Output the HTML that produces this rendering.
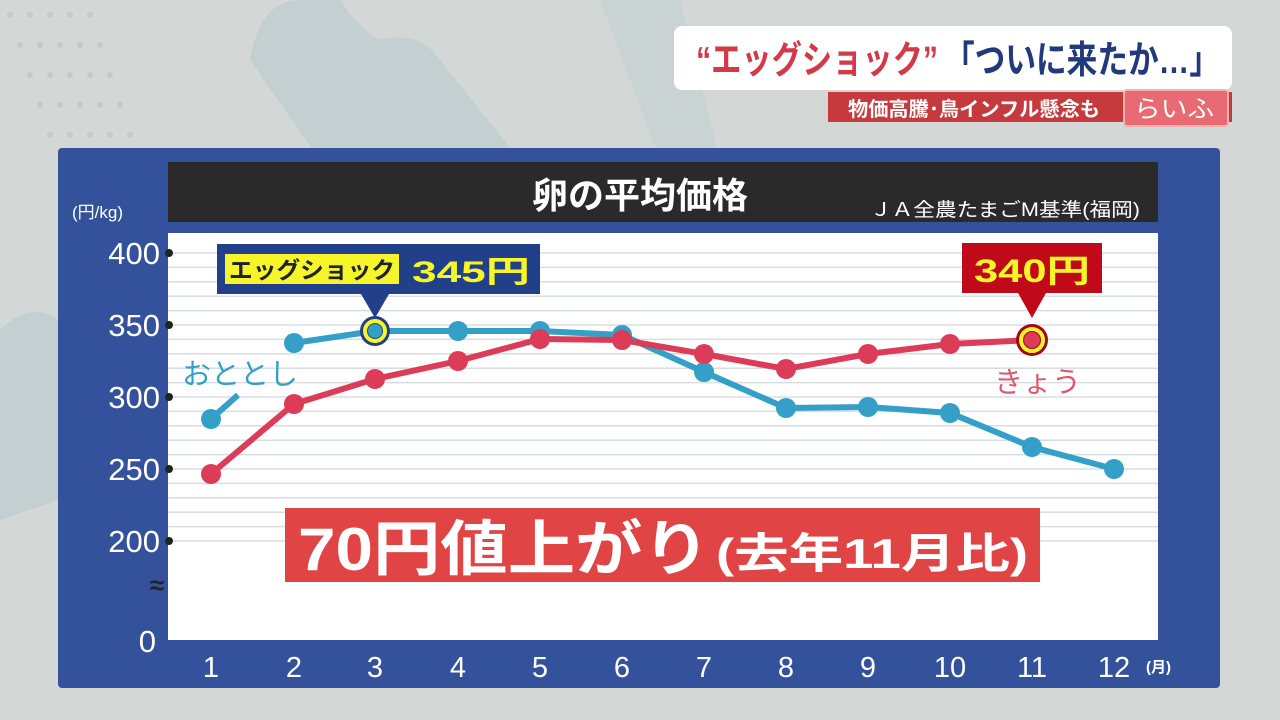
<!DOCTYPE html>
<html><head><meta charset="utf-8"><style>
html,body{margin:0;padding:0;width:1280px;height:720px;overflow:hidden;background:#d3d8d7}
svg{display:block}
text{font-family:"Liberation Sans","Noto Sans CJK JP",sans-serif;font-weight:bold}
text.n{font-weight:normal}
</style></head><body>
<svg width="1280" height="720" viewBox="0 0 1280 720" xmlns="http://www.w3.org/2000/svg">
<rect width="1280" height="720" fill="#d3d8d7"/>
<path d="M250 60 Q260 0 300 0 L340 0 Q360 30 380 40 Q420 30 440 60 L520 160 L320 160 Z" fill="#c3cfd1"/>
<path d="M600 0 L680 0 L720 160 L660 160 Z" fill="#cad3d4"/>
<path d="M0 330 Q30 300 58 320 L58 500 L0 520 Z" fill="#c3cfd1"/>
<g fill="#cbc6c8">
<circle cx="10" cy="15" r="3"/><circle cx="30" cy="15" r="3"/><circle cx="50" cy="15" r="3"/><circle cx="70" cy="15" r="3"/><circle cx="90" cy="15" r="3"/>
<circle cx="20" cy="45" r="3"/><circle cx="40" cy="45" r="3"/><circle cx="60" cy="45" r="3"/><circle cx="80" cy="45" r="3"/><circle cx="100" cy="45" r="3"/>
<circle cx="30" cy="75" r="3"/><circle cx="50" cy="75" r="3"/><circle cx="70" cy="75" r="3"/><circle cx="90" cy="75" r="3"/><circle cx="110" cy="75" r="3"/>
<circle cx="40" cy="105" r="3"/><circle cx="60" cy="105" r="3"/><circle cx="80" cy="105" r="3"/><circle cx="100" cy="105" r="3"/><circle cx="120" cy="105" r="3"/>
<circle cx="50" cy="135" r="3"/><circle cx="70" cy="135" r="3"/><circle cx="90" cy="135" r="3"/><circle cx="110" cy="135" r="3"/><circle cx="130" cy="135" r="3"/>
</g>
<rect x="674" y="26" width="558" height="64" rx="8" fill="#ffffff"/>
<text x="696" y="73" font-size="38" fill="#d23a4a" textLength="242" lengthAdjust="spacingAndGlyphs">“エッグショック”</text>
<text x="944" y="73" font-size="38" fill="#223a7a" textLength="276" lengthAdjust="spacingAndGlyphs">「ついに来たか…」</text>
<rect x="828" y="92" width="404" height="30" fill="#c63a3e"/>
<text x="848" y="116" font-size="20" fill="#fff" textLength="252" lengthAdjust="spacingAndGlyphs">物価高騰･鳥インフル懸念も</text>
<rect x="1124" y="90" width="104" height="36" rx="3" fill="#e86a72" stroke="#f5b0b0" stroke-width="2"/>
<text x="1134" y="117" font-size="24" fill="#fff" class="n" textLength="80" lengthAdjust="spacingAndGlyphs">らいふ</text>
<rect x="58" y="148" width="1162" height="540" rx="4" fill="#34529c"/>
<rect x="168" y="162" width="990" height="60" fill="#2a2a2a"/>
<text x="640" y="208" font-size="36" fill="#fff" text-anchor="middle">卵の平均価格</text>
<text x="1140" y="216" font-size="19" fill="#fff" text-anchor="end" class="n" textLength="270" lengthAdjust="spacingAndGlyphs">ＪＡ全農たまごM基準(福岡)</text>
<text x="72" y="218" font-size="17" fill="#fff" class="n">(円/kg)</text>
<rect x="168" y="233" width="990" height="407" fill="#ffffff"/>
<g stroke="#d8dde0" stroke-width="1.5">
<line x1="168" x2="1158" y1="253" y2="253"/><line x1="168" x2="1158" y1="267.4" y2="267.4"/><line x1="168" x2="1158" y1="281.8" y2="281.8"/><line x1="168" x2="1158" y1="296.2" y2="296.2"/><line x1="168" x2="1158" y1="310.6" y2="310.6"/>
<line x1="168" x2="1158" y1="325" y2="325"/><line x1="168" x2="1158" y1="339.4" y2="339.4"/><line x1="168" x2="1158" y1="353.8" y2="353.8"/><line x1="168" x2="1158" y1="368.2" y2="368.2"/><line x1="168" x2="1158" y1="382.6" y2="382.6"/>
<line x1="168" x2="1158" y1="397" y2="397"/><line x1="168" x2="1158" y1="411.4" y2="411.4"/><line x1="168" x2="1158" y1="425.8" y2="425.8"/><line x1="168" x2="1158" y1="440.2" y2="440.2"/><line x1="168" x2="1158" y1="454.6" y2="454.6"/>
<line x1="168" x2="1158" y1="469" y2="469"/><line x1="168" x2="1158" y1="483.4" y2="483.4"/><line x1="168" x2="1158" y1="497.8" y2="497.8"/><line x1="168" x2="1158" y1="512.2" y2="512.2"/><line x1="168" x2="1158" y1="526.6" y2="526.6"/>
<line x1="168" x2="1158" y1="541" y2="541"/>
</g>
<g fill="#222"><circle cx="169" cy="253" r="4"/><circle cx="169" cy="325" r="4"/><circle cx="169" cy="397" r="4"/><circle cx="169" cy="469" r="4"/><circle cx="169" cy="541" r="4"/></g>
<g fill="#fff" font-size="31" text-anchor="end">
<text class="n" x="160" y="264">400</text><text class="n" x="160" y="336">350</text><text class="n" x="160" y="408">300</text><text class="n" x="160" y="480">250</text><text class="n" x="160" y="552">200</text><text class="n" x="156" y="652">0</text>
</g>
<text x="150" y="594" font-size="26" fill="#222">≈</text>
<g fill="#fff" font-size="29" text-anchor="middle">
<text class="n" x="211" y="677">1</text><text class="n" x="294" y="677">2</text><text class="n" x="375" y="677">3</text><text class="n" x="458" y="677">4</text><text class="n" x="540" y="677">5</text><text class="n" x="622" y="677">6</text><text class="n" x="704" y="677">7</text><text class="n" x="786" y="677">8</text><text class="n" x="868" y="677">9</text><text class="n" x="950" y="677">10</text><text class="n" x="1032" y="677">11</text><text class="n" x="1114" y="677">12</text>
</g>
<text x="1146" y="672" font-size="15" fill="#fff">(月)</text>
<polyline points="211,419 238,395" fill="none" stroke="#34a0c8" stroke-width="6"/>
<polyline points="294,343 375,331 458,331 540,331 622,335 704,372 786,408 868,407 950,413 1032,447 1114,469" fill="none" stroke="#34a0c8" stroke-width="6"/>
<g fill="#34a0c8"><circle cx="211" cy="419" r="10"/><circle cx="294" cy="343" r="10"/><circle cx="458" cy="331" r="10"/><circle cx="540" cy="331" r="10"/><circle cx="622" cy="335" r="10"/><circle cx="704" cy="372" r="10"/><circle cx="786" cy="408" r="10"/><circle cx="868" cy="407" r="10"/><circle cx="950" cy="413" r="10"/><circle cx="1032" cy="447" r="10"/><circle cx="1114" cy="469" r="10"/></g>
<polyline points="211,474 294,404 375,379 458,361 540,339 622,340 704,354 786,369 868,354 950,344 1032,340" fill="none" stroke="#dc3c58" stroke-width="6"/>
<g fill="#dc3c58"><circle cx="211" cy="474" r="10"/><circle cx="294" cy="404" r="10"/><circle cx="375" cy="379" r="10"/><circle cx="458" cy="361" r="10"/><circle cx="540" cy="339" r="10"/><circle cx="622" cy="340" r="10"/><circle cx="704" cy="354" r="10"/><circle cx="786" cy="369" r="10"/><circle cx="868" cy="354" r="10"/><circle cx="950" cy="344" r="10"/></g>
<text x="182" y="384" font-size="29" fill="#34a0c8" class="n">おととし</text>
<text x="994" y="392" font-size="29" fill="#dc5a6a" class="n">きょう</text>
<rect x="217" y="244" width="323" height="50" fill="#22408a"/>
<polygon points="361,294 389,294 375,318" fill="#22408a"/>
<rect x="225" y="254" width="174" height="30" fill="#f5f52a"/>
<text x="229" y="278" font-size="23" fill="#222" textLength="166" lengthAdjust="spacingAndGlyphs">エッグショック</text>
<text x="412" y="282" font-size="30" fill="#f5f52a" textLength="118" lengthAdjust="spacingAndGlyphs">345円</text>
<circle cx="375" cy="331" r="15" fill="#22408a"/>
<circle cx="375" cy="331" r="10" fill="none" stroke="#f5f52a" stroke-width="4"/>
<circle cx="375" cy="331" r="7" fill="#34a0c8"/>
<rect x="962" y="243" width="140" height="50" fill="#c00a1a"/>
<polygon points="1018,293 1046,293 1032,318" fill="#c00a1a"/>
<text x="974" y="282" font-size="32" fill="#f5f52a" textLength="116" lengthAdjust="spacingAndGlyphs">340円</text>
<circle cx="1032" cy="340" r="16" fill="#a00a18"/>
<circle cx="1032" cy="340" r="11" fill="none" stroke="#f5f52a" stroke-width="4"/>
<circle cx="1032" cy="340" r="8" fill="#dc3c58"/>
<rect x="285" y="508" width="755" height="74" fill="#e04444"/>
<text x="298" y="570" font-size="60" fill="#fff" textLength="412" lengthAdjust="spacingAndGlyphs">70円値上がり</text>
<text x="716" y="568" font-size="42" fill="#fff" textLength="312" lengthAdjust="spacingAndGlyphs">(去年11月比)</text>
</svg>
</body></html>
